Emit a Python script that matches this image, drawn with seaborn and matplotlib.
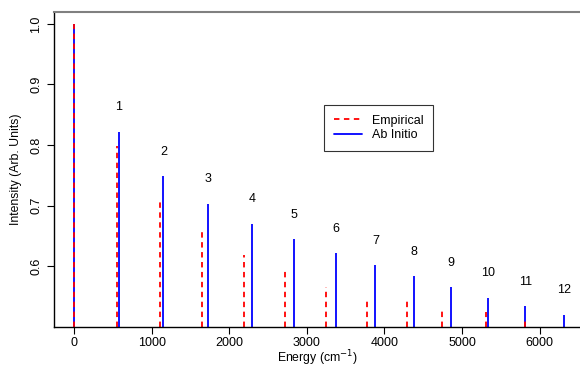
import numpy as np
import pandas as pd
import seaborn as sns
import matplotlib
matplotlib.use("Agg")
import matplotlib.pyplot as plt
from matplotlib.lines import Line2D

sns.set_style("ticks")
plt.rcParams['font.family'] = ['Liberation Sans', 'DejaVu Sans']
plt.rcParams['text.color'] = 'black'
plt.rcParams['axes.labelcolor'] = 'black'

# Ab initio lines
abinitio_energy = [0, 580, 1151, 1727, 2294, 2839, 3372, 3883, 4377, 4862, 5335, 5816, 6314]
abinitio_intensity = [1.0, 0.822, 0.748, 0.703, 0.670, 0.644, 0.622, 0.602, 0.584, 0.565, 0.548, 0.534, 0.520]
# Empirical lines
empirical_energy = [0, 550, 1108, 1645, 2187, 2719, 3247, 3771, 4286, 4746, 5312, 5812]
empirical_intensity = [1.0, 0.799, 0.710, 0.656, 0.619, 0.595, 0.565, 0.547, 0.543, 0.529, 0.525, 0.510]
peak_labels = ["1", "2", "3", "4", "5", "6", "7", "8", "9", "10", "11", "12"]

ab = pd.DataFrame({"energy": abinitio_energy, "intensity": abinitio_intensity})
em = pd.DataFrame({"energy": empirical_energy, "intensity": empirical_intensity})

fig = plt.figure(figsize=(5.8, 3.66), dpi=100)
ax = fig.add_axes([54.3 / 580, 1 - 326.7 / 366, (580 - 54.3) / 580, 315 / 366])
ymin = 0.5
ax.vlines(ab["energy"], ymin, ab["intensity"], colors="blue", linewidth=1.3, label="Ab Initio")
ax.vlines(em["energy"], ymin, em["intensity"], colors="red", linewidth=1.3,
          linestyles=(0, (3, 2.5)), label="Empirical")

for x, y, t in zip(ab["energy"][1:], ab["intensity"][1:], peak_labels):
    ax.text(x, y + 0.04, t, ha="center", va="center", fontsize=9, color="black")

ax.set_xlim(-254, 6520)
ax.set_ylim(0.5, 1.02)
ax.set_xticks([0, 1000, 2000, 3000, 4000, 5000, 6000])
ax.set_yticks([0.6, 0.7, 0.8, 0.9, 1.0])
ax.set_yticklabels(["0.6", "0.7", "0.8", "0.9", "1.0"], rotation=90, va="center")
ax.tick_params(labelsize=9, length=5, width=0.8, colors="black")
ax.tick_params(axis="x", pad=2.5)
ax.set_xlabel("Energy (cm$^{-1}$)", fontsize=8.8, labelpad=-0.5, color="black")
ax.set_ylabel("Intensity (Arb. Units)", fontsize=8.8, labelpad=6, color="black")

ax.spines["right"].set_visible(False)
ax.spines["top"].set_color("#808080")
ax.spines["top"].set_linewidth(1.5)
for s in ("left", "bottom"):
    ax.spines[s].set_linewidth(1.0)
    ax.spines[s].set_color("black")

handles = [Line2D([], [], color="red", lw=1.3, ls=(0, (3, 2.5))),
           Line2D([], [], color="blue", lw=1.3)]
leg = ax.legend(handles, ["Empirical", "Ab Initio"], loc="center",
                bbox_to_anchor=(378.7 / 580, 1 - 128 / 366), bbox_transform=fig.transFigure,
                fontsize=9, frameon=True, fancybox=False, edgecolor="black",
                handlelength=2.2, borderpad=0.8, labelspacing=0.2)
leg.get_frame().set_linewidth(0.8)
for t in leg.get_texts():
    t.set_color("black")

fig.savefig("out.png", dpi=100)
